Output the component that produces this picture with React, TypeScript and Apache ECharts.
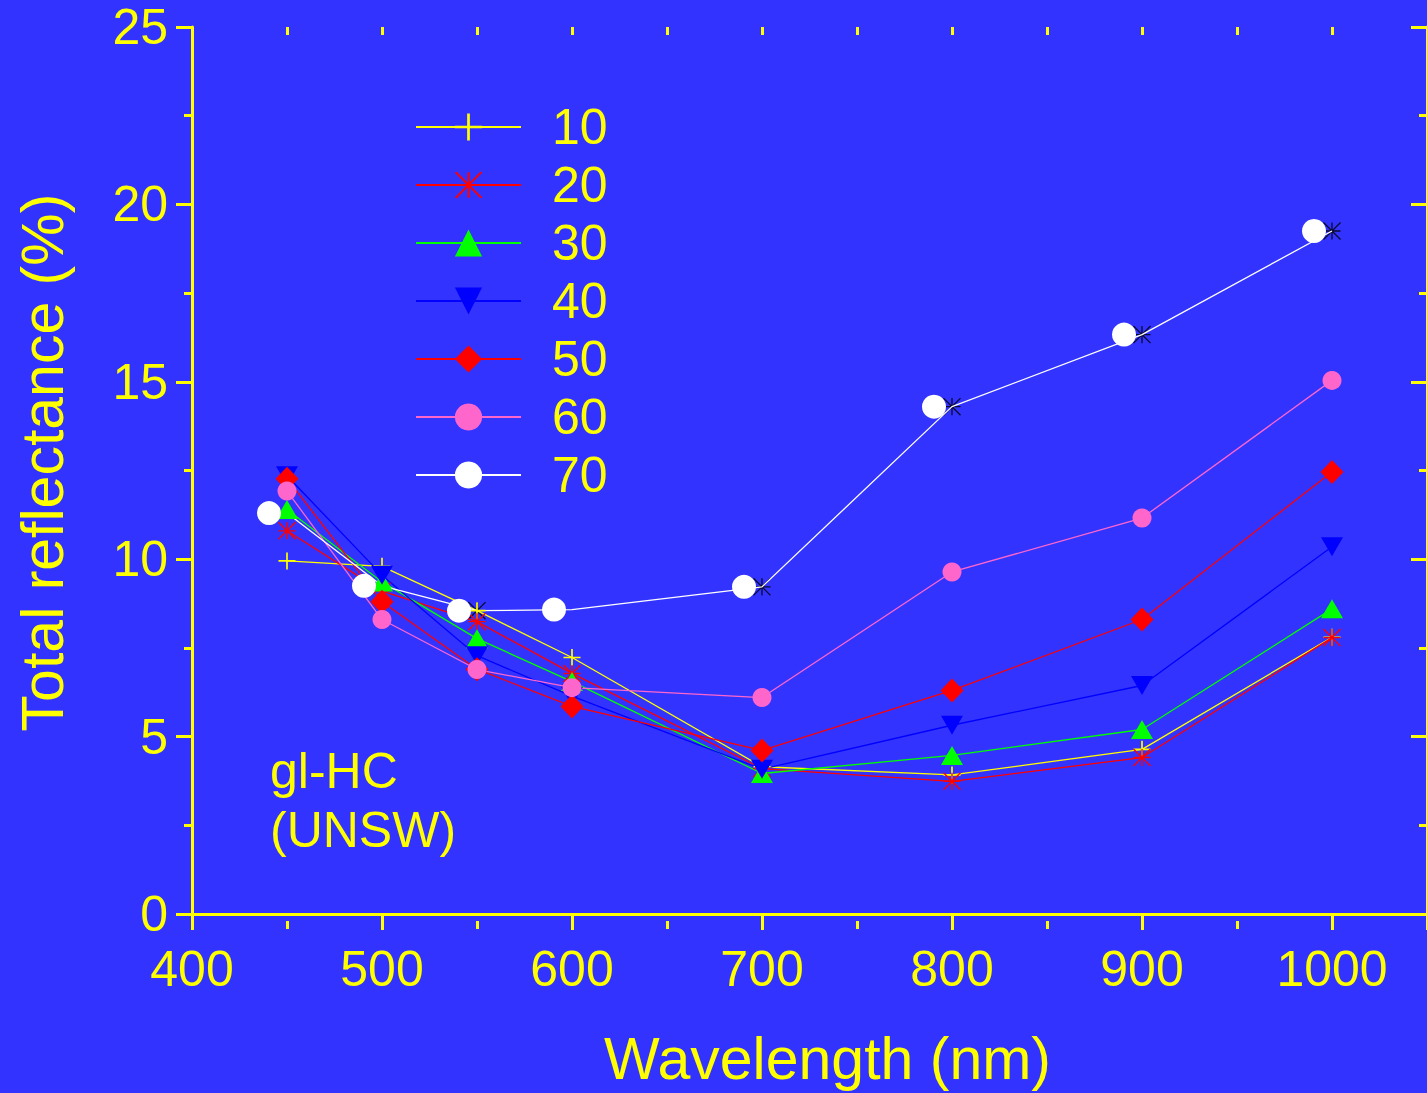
import React, { useEffect, useRef } from 'react';
import * as echarts from 'echarts';

// Wavelength grid (nm) and total reflectance (%) for each angle series
const wavelengths = [450, 500, 550, 600, 700, 800, 900, 1000];
const r10 = [9.95, 9.8, 8.55, 7.23, 4.15, 3.92, 4.64, 7.8];
const r20 = [10.8, 9.1, 8.24, 6.78, 4.1, 3.74, 4.41, 7.79];
const r30 = [11.4, 9.36, 7.76, 6.55, 3.96, 4.47, 5.2, 8.6];
const r40 = [12.35, 9.55, 7.28, 6.14, 4.08, 5.32, 6.44, 10.35];
const r50 = [12.27, 8.8, 6.9, 5.85, 4.61, 6.3, 8.3, 12.46];
const r60 = [11.92, 8.3, 6.89, 6.38, 6.1, 9.64, 11.16, 15.04];
const r70 = [11.3, 9.25, 8.55, 8.58, 9.22, 14.3, 16.33, 19.25];
// points of the 70 series that also carry the black asterisk marker
const r70StarIdx = [2, 4, 5, 6, 7];

const seriesNames = ['10', '20', '30', '40', '50', '60', '70'];
const xTicks = { min: 400, max: 1050, major: 100, minor: 50 };
const yTicks = { min: 0, max: 25, major: 5 };

const FONT = '"Liberation Sans", Arial, Helvetica, sans-serif';
const YELLOW = '#FFFF00';
const BG = '#3333FF';

const CROSS =
  'path://M-1,-10L1,-10L1,10L-1,10Z M-10,-1L10,-1L10,1L-10,1Z';
const STAR =
  'path://M-0.8,-10L0.8,-10L0.8,10L-0.8,10Z M-10,-0.8L10,-0.8L10,0.8L-10,0.8Z ' +
  'M-10.57,-9.43L-9.43,-10.57L10.57,9.43L9.43,10.57Z ' +
  'M-9.43,10.57L-10.57,9.43L9.43,-10.57L10.57,-9.43Z';
const TRI_DOWN = 'path://M-1,-0.87L1,-0.87L0,0.87Z';

const pts = (vals: number[]) => wavelengths.map((w, i) => [w, vals[i]]);

function lineSeries(
  name: string,
  vals: number[],
  color: string,
  symbol: string,
  symbolSize: number | number[],
  extra: Record<string, unknown> = {}
) {
  return {
    type: 'line',
    name,
    data: pts(vals),
    xAxisIndex: 0,
    yAxisIndex: 0,
    symbol,
    symbolSize,
    showSymbol: true,
    lineStyle: { color, width: 1.3 },
    itemStyle: { color },
    emphasis: { disabled: true },
    ...extra,
  };
}

const axisLineStyle = { show: true, lineStyle: { color: YELLOW, width: 3 } };
const tickStyle = { color: YELLOW, width: 3 };
const plainNumber = (v: number) => String(v);

function buildOption() {
  const gridRect = { left: 192, right: -3, top: 27, bottom: 172 };
  return {
    animation: false,
    backgroundColor: BG,
    textStyle: { fontFamily: FONT },
    grid: [{ ...gridRect }, { ...gridRect }],
    legend: {
      orient: 'vertical',
      left: 415,
      top: 102,
      padding: 0,
      itemWidth: 105,
      itemHeight: 34,
      itemGap: 8,
      selectedMode: false,
      data: seriesNames,
      textStyle: {
        color: YELLOW,
        fontSize: 50,
        fontFamily: FONT,
        lineHeight: 50,
        padding: [0, 0, 0, 26],
      },
    },
    xAxis: [
      {
        gridIndex: 0,
        type: 'value',
        position: 'bottom',
        min: xTicks.min,
        max: xTicks.max,
        interval: xTicks.major,
        axisLine: axisLineStyle,
        axisTick: { show: true, length: 16, lineStyle: tickStyle },
        axisLabel: {
          color: YELLOW,
          fontSize: 50,
          margin: 30,
          fontFamily: FONT,
          showMaxLabel: false,
          formatter: plainNumber,
        },
        splitLine: { show: false },
        name: 'Wavelength (nm)',
        nameLocation: 'middle',
        nameGap: 115,
        nameTextStyle: {
          color: YELLOW,
          fontSize: 59,
          fontFamily: FONT,
          padding: [0, 0, 0, 36],
        },
      },
      {
        gridIndex: 0,
        type: 'value',
        position: 'top',
        min: xTicks.min,
        max: xTicks.max,
        interval: xTicks.major,
        axisLine: axisLineStyle,
        axisTick: { show: true, inside: true, length: 16, lineStyle: tickStyle },
        axisLabel: { show: false },
        splitLine: { show: false },
      },
      {
        gridIndex: 1,
        type: 'value',
        position: 'bottom',
        min: xTicks.min,
        max: xTicks.max,
        interval: xTicks.minor,
        axisLine: { show: false },
        axisTick: { show: true, length: 8, lineStyle: tickStyle },
        axisLabel: { show: false },
        splitLine: { show: false },
      },
      {
        gridIndex: 1,
        type: 'value',
        position: 'top',
        min: xTicks.min,
        max: xTicks.max,
        interval: xTicks.minor,
        axisLine: { show: false },
        axisTick: { show: true, inside: true, length: 8, lineStyle: tickStyle },
        axisLabel: { show: false },
        splitLine: { show: false },
      },
    ],
    yAxis: [
      {
        gridIndex: 0,
        type: 'value',
        position: 'left',
        min: yTicks.min,
        max: yTicks.max,
        interval: yTicks.major,
        axisLine: axisLineStyle,
        axisTick: { show: true, length: 16, lineStyle: tickStyle },
        minorTick: { show: true, splitNumber: 2, length: 8, lineStyle: tickStyle },
        axisLabel: {
          color: YELLOW,
          fontSize: 50,
          margin: 24,
          fontFamily: FONT,
          formatter: plainNumber,
        },
        splitLine: { show: false },
        minorSplitLine: { show: false },
        name: 'Total reflectance (%)',
        nameLocation: 'middle',
        nameGap: 120,
        nameTextStyle: {
          color: YELLOW,
          fontSize: 59,
          fontFamily: FONT,
          padding: [0, 0, 0, 16],
        },
      },
      {
        gridIndex: 0,
        type: 'value',
        position: 'right',
        min: yTicks.min,
        max: yTicks.max,
        interval: yTicks.major,
        axisLine: axisLineStyle,
        axisTick: { show: true, inside: true, length: 16, lineStyle: tickStyle },
        minorTick: { show: true, splitNumber: 2, length: 8, lineStyle: tickStyle },
        axisLabel: { show: false },
        splitLine: { show: false },
        minorSplitLine: { show: false },
      },
      {
        gridIndex: 1,
        type: 'value',
        show: false,
        min: yTicks.min,
        max: yTicks.max,
      },
    ],
    graphic: [
      {
        type: 'text',
        left: 270,
        top: 741,
        style: {
          text: 'gl-HC\n(UNSW)',
          fill: YELLOW,
          fontSize: 50,
          fontFamily: FONT,
          lineHeight: 59,
        },
      },
    ],
    series: [
      lineSeries('10', r10, YELLOW, CROSS, 17),
      {
        type: 'scatter',
        name: '70 asterisk',
        data: r70StarIdx.map((i) => [wavelengths[i], r70[i]]),
        xAxisIndex: 0,
        yAxisIndex: 0,
        symbol: STAR,
        symbolSize: 18,
        itemStyle: { color: '#000000' },
        emphasis: { disabled: true },
      },
      lineSeries('20', r20, '#FF0000', STAR, 18),
      lineSeries('30', r30, '#00FF00', 'triangle', [22, 19]),
      lineSeries('40', r40, '#0000FF', TRI_DOWN, [22, 19]),
      lineSeries('50', r50, '#FF0000', 'diamond', [23, 24]),
      lineSeries('60', r60, '#FF66CC', 'circle', 19),
      lineSeries('70', r70, '#FFFFFF', 'circle', 24, { symbolOffset: [-18, 0] }),
    ],
  };
}

export default function App() {
  const ref = useRef<HTMLDivElement>(null);
  useEffect(() => {
    if (!ref.current) return;
    const chart = echarts.init(ref.current, null, { renderer: 'svg' });
    chart.setOption(buildOption() as any);
    return () => chart.dispose();
  }, []);
  return (
    <div
      ref={ref}
      style={{
        position: 'fixed',
        left: 0,
        top: 0,
        width: 1427,
        height: 1093,
        background: BG,
      }}
    />
  );
}
